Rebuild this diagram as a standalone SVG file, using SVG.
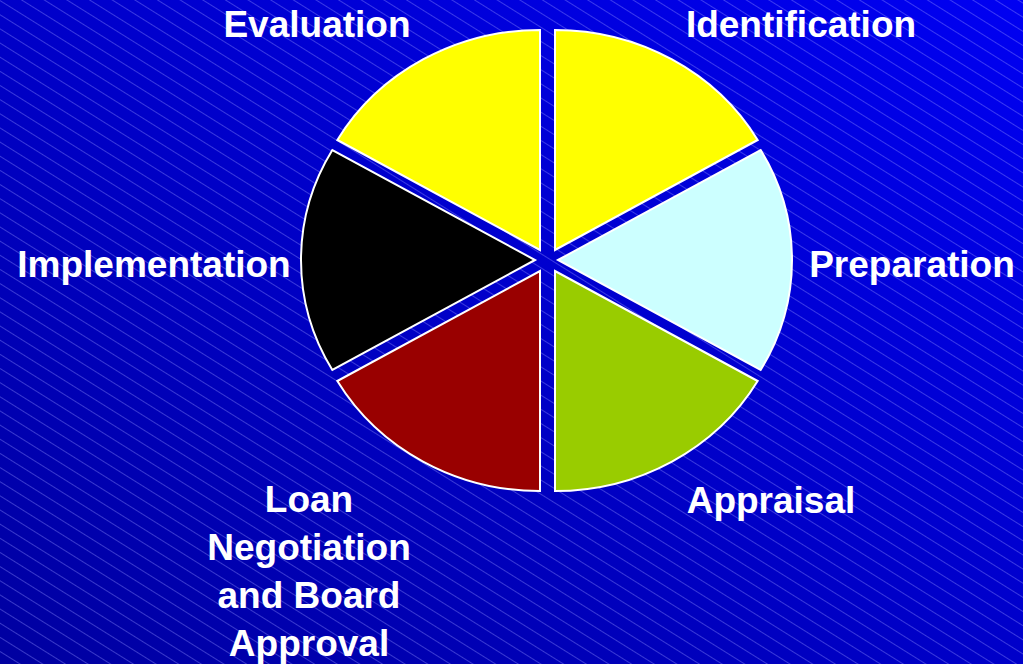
<svg xmlns="http://www.w3.org/2000/svg" width="1023" height="664" viewBox="0 0 1023 664">
  <defs>
    <linearGradient id="bg" x1="0" y1="1" x2="1" y2="0">
      <stop offset="0" stop-color="#0000A0"/>
      <stop offset="1" stop-color="#0000F2"/>
    </linearGradient>
    <pattern id="hatch" patternUnits="userSpaceOnUse" width="200" height="12" patternTransform="rotate(32)">
      <line x1="0" y1="0.5" x2="200" y2="0.5" stroke="#9090FF" stroke-opacity="0.4" stroke-width="1"/>
    </pattern>
  </defs>
  <style>
    .slice { stroke: #FFFFFF; stroke-width: 2; stroke-linejoin: miter; }
    .lbl { font-family: "Liberation Sans", Arial, sans-serif; font-weight: bold; font-size: 37px; fill: #FFFFFF; text-anchor: middle; }
  </style>
  <rect x="0" y="0" width="1023" height="664" fill="url(#bg)"/>
  <rect x="0" y="0" width="1023" height="664" fill="url(#hatch)"/>

  <g id="identification">
    <path class="slice" fill="#FFFF00" d="M555,250 L555,30 A234,220 0 0 1 757.65,140 Z"/>
    <text class="lbl" x="801" y="37">Identification</text>
  </g>
  <g id="preparation">
    <path class="slice" fill="#CCFFFF" d="M558,260 L760.65,150 A234,220 0 0 1 760.65,370 Z"/>
    <text class="lbl" x="912" y="277">Preparation</text>
  </g>
  <g id="appraisal">
    <path class="slice" fill="#99CC00" d="M555,271 L757.65,381 A234,220 0 0 1 555,491 Z"/>
    <text class="lbl" x="771" y="513">Appraisal</text>
  </g>
  <g id="loan">
    <path class="slice" fill="#990000" d="M540,271 L540,491 A234,220 0 0 1 337.35,381 Z"/>
    <text class="lbl" x="309" y="512">Loan</text>
    <text class="lbl" x="309" y="560">Negotiation</text>
    <text class="lbl" x="309" y="608">and Board</text>
    <text class="lbl" x="309" y="656">Approval</text>
  </g>
  <g id="implementation">
    <path class="slice" fill="#000000" d="M535,260 L332.35,370 A234,220 0 0 1 332.35,150 Z"/>
    <text class="lbl" x="154" y="277">Implementation</text>
  </g>
  <g id="evaluation">
    <path class="slice" fill="#FFFF00" d="M540,250 L337.35,140 A234,220 0 0 1 540,30 Z"/>
    <text class="lbl" x="317" y="37">Evaluation</text>
  </g>
  <g id="connectors"></g>
</svg>
